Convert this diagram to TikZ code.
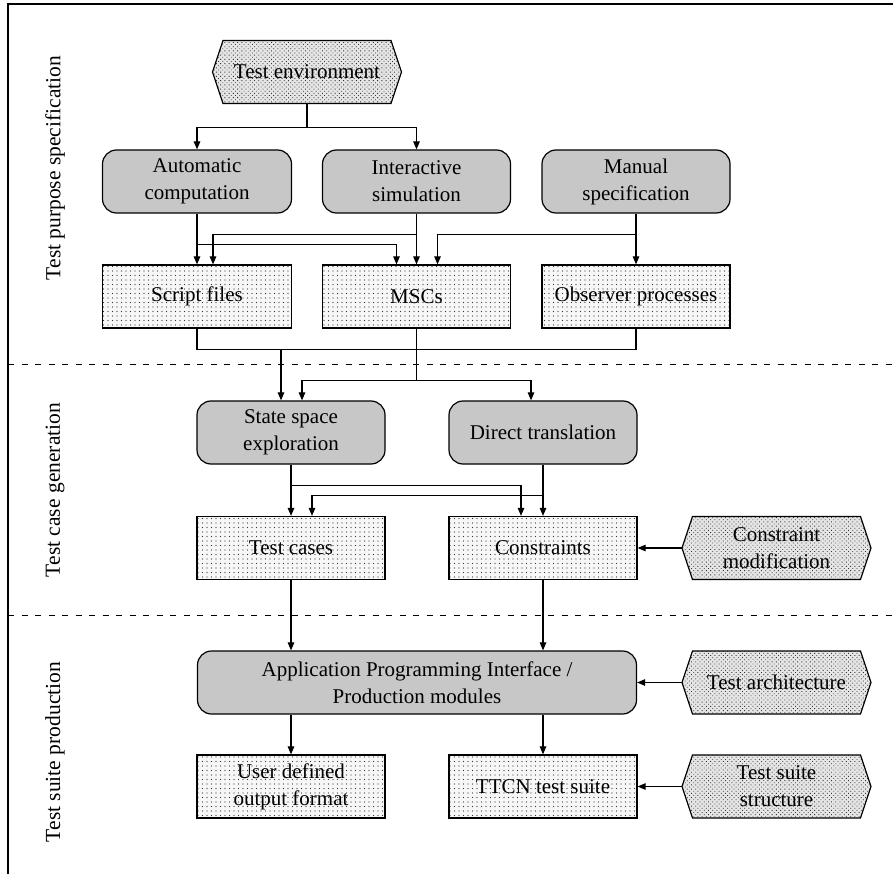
\documentclass[tikz,border=0pt]{standalone}
\usepackage{fontspec}
\setmainfont{Liberation Serif}
\usetikzlibrary{arrows.meta,patterns.meta,calc}

\tikzset{
  base/.style={font=\fontsize{21}{27}\selectfont, align=center, inner sep=0pt},
  roundbox/.style={base, draw, line width=1.2pt, rounded corners=14pt,
    preaction={fill=gray!38},
    pattern={Dots[distance=2pt,radius=0.45pt]}, pattern color=black!55},
  rectbox/.style={base, draw, line width=1.2pt,
    preaction={fill=gray!6},
    pattern={Dots[distance=4.5pt,radius=0.6pt]}, pattern color=black!80},
  hexfill/.style={draw, line width=1.2pt,
    preaction={fill=gray!20},
    pattern={Dots[distance=3pt,radius=0.6pt,angle=45]}, pattern color=black!80},
  conn/.style={line width=1.1pt},
  arr/.style={conn, -{Triangle[length=8pt,width=6.5pt]}},
  lane/.style={font=\fontsize{21.5}{26}\selectfont, rotate=90, inner sep=0pt},
  sep/.style={line width=0.9pt, dash pattern=on 6pt off 7.5pt},
}

% hexagon with pointed left and right ends; #1 name, #2 centre, #3 text
\newcommand{\hexnode}[3]{%
  \path[hexfill] ($#2+(-94.5,0)$) -- ($#2+(-84,-31.5)$) -- ($#2+(84,-31.5)$)
    -- ($#2+(94.5,0)$) -- ($#2+(84,31.5)$) -- ($#2+(-84,31.5)$) -- cycle;
  \node[base, minimum width=189pt, minimum height=63pt] (#1) at #2 {#3};}

\begin{document}
\begin{tikzpicture}[x=1pt,y=-1pt]
\useasboundingbox (0,0) rectangle (893,874);

% outer frame (left and top sides only)
\draw[line width=1.5pt] (8,874) -- (8,4) -- (893,4);

% phase separators
\draw[sep] (8,364) -- (893,364);
\draw[sep] (8,615) -- (893,615);

% phase labels
\node[lane] (l1) at (55,168) {Test purpose specification};
\node[lane] (l2) at (55,490) {Test case generation};
\node[lane] (l3) at (55,752) {Test suite production};

% ---- test purpose specification
\hexnode{env}{(307,72)}{Test environment}
\node[roundbox, minimum width=189pt, minimum height=63pt] (auto) at (197,181.5) {Automatic\\computation};
\node[roundbox, minimum width=188pt, minimum height=63pt] (inter) at (416.5,181.5) {Interactive\\simulation};
\node[roundbox, minimum width=188pt, minimum height=63pt] (manual) at (636,181.5) {Manual\\specification};

\node[rectbox, minimum width=189pt, minimum height=63pt] (script) at (197,296.5) {Script files};
\node[rectbox, minimum width=188pt, minimum height=63pt] (mscs) at (416.5,296.5) {MSCs};
\node[rectbox, minimum width=188pt, minimum height=63pt] (observer) at (636,296.5) {Observer processes};

% ---- test case generation
\node[roundbox, minimum width=188pt, minimum height=63pt] (state) at (291,432.5) {State space\\exploration};
\node[roundbox, minimum width=188pt, minimum height=63pt] (direct) at (543,432.5) {Direct translation};

\node[rectbox, minimum width=188pt, minimum height=63pt] (tcases) at (291,548) {Test cases};
\node[rectbox, minimum width=188pt, minimum height=63pt] (constr) at (543,548) {Constraints};
\hexnode{cmod}{(776.5,548)}{Constraint\\modification}

% ---- test suite production
\node[roundbox, minimum width=439pt, minimum height=63pt] (api) at (417,682.5) {Application Programming Interface /\\Production modules};
\hexnode{tarch}{(776.5,682.5)}{Test architecture}

\node[rectbox, minimum width=188pt, minimum height=63pt] (user) at (291,786.5) {User defined\\output format};
\node[rectbox, minimum width=188pt, minimum height=63pt] (ttcn) at (543,786.5) {TTCN test suite};
\hexnode{tss}{(776.5,786.5)}{Test suite\\structure}

% ---- connectors: environment to the three sources
\draw[arr] (env.south) -- ++(0,24) -| (auto.north);
\draw[arr] (env.south) -- ++(0,24) -| (inter.north);

% sources to test purpose formats
\draw[arr] (auto.south) -- (auto.south |- script.north);
\draw[arr] ([yshift=-31pt]auto.south) -| ([xshift=-20pt]mscs.north);
\draw[arr] (inter.south) -- (inter.south |- mscs.north);
\draw[arr] ([yshift=-21pt]inter.south) -| ([xshift=16pt]script.north);
\draw[arr] (manual.south) -- (manual.south |- observer.north);
\draw[arr] ([yshift=-21pt]manual.south) -| ([xshift=21pt]mscs.north);

% test purposes to generation methods
\draw[conn] (script.south) -- ++(0,21) -| (observer.south);
\coordinate (j1) at (281,349);
\draw[arr] (j1) -- (j1 |- state.north);
\draw[conn] (mscs.south) -- ++(0,52) coordinate (j2);
\draw[arr] (j2) -| ([xshift=11pt]state.north);
\draw[arr] (j2) -| ([xshift=-12pt]direct.north);

% generation methods to outputs
\draw[arr] (state.south) -- (state.south |- tcases.north);
\draw[arr] ([yshift=-21pt]state.south) -| ([xshift=-22pt]constr.north);
\draw[arr] (direct.south) -- (direct.south |- constr.north);
\draw[arr] ([yshift=-31pt]direct.south) -| ([xshift=21pt]tcases.north);
\draw[arr] (cmod.west) -- (constr.east);

% into the production modules
\draw[arr] (tcases.south) -- (tcases.south |- api.north);
\draw[arr] (constr.south) -- (constr.south |- api.north);
\draw[arr] (tarch.west) -- (api.east);
\draw[arr] (api.south -| user.north) -- (user.north);
\draw[arr] (api.south -| ttcn.north) -- (ttcn.north);
\draw[arr] (tss.west) -- (ttcn.east);
\end{tikzpicture}
\end{document}
